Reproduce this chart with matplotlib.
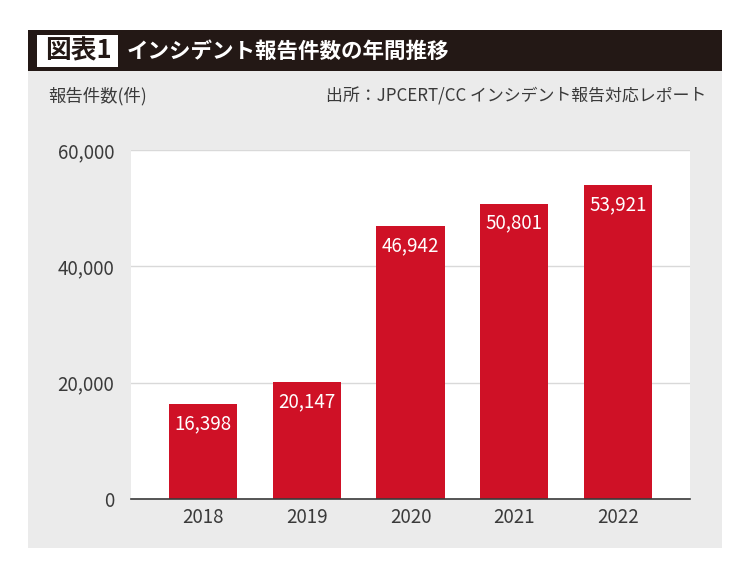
import matplotlib
matplotlib.use("Agg")
import matplotlib.pyplot as plt
from matplotlib.patches import Rectangle

plt.rcParams['font.family'] = ['Noto Sans CJK JP', 'DejaVu Sans']

years = ["2018", "2019", "2020", "2021", "2022"]
counts = [16398, 20147, 46942, 50801, 53921]
yticks = [0, 20000, 40000, 60000]
title_tag = "図表1"
title = "インシデント報告件数の年間推移"
ylabel = "報告件数(件)"
source = "出所：JPCERT/CC インシデント報告対応レポート"

W, H = 740, 567
fig = plt.figure(figsize=(W/100, H/100), dpi=100)
fig.patch.set_facecolor("white")

def fx(px): return px / W
def fy(py): return 1 - py / H

# gray panel
fig.patches.append(Rectangle((fx(28), fy(548)), fx(722)-fx(28), fy(71)-fy(548),
                             transform=fig.transFigure, facecolor="#ebebeb", edgecolor="none", zorder=0))
# dark header
fig.patches.append(Rectangle((fx(28), fy(71)), fx(722)-fx(28), fy(30)-fy(71),
                             transform=fig.transFigure, facecolor="#231815", edgecolor="none", zorder=0))
# white tag box
fig.patches.append(Rectangle((fx(37), fy(67)), fx(118)-fx(37), fy(35)-fy(67),
                             transform=fig.transFigure, facecolor="white", edgecolor="none", zorder=1))
fig.text(fx(78), fy(51), title_tag, color="#231815", fontsize=18.5, fontweight="bold",
         ha="center", va="center", zorder=2)
fig.text(fx(127), fy(51), title, color="white", fontsize=15.5, fontweight="bold",
         ha="left", va="center", zorder=2)
fig.text(fx(48), fy(96), ylabel, color="#3a3a3a", fontsize=12.5, ha="left", va="center")
fig.text(fx(706), fy(96), source, color="#3a3a3a", fontsize=12.2, ha="right", va="center")

ax = fig.add_axes([fx(131), fy(499), fx(690)-fx(131), fy(150)-fy(499)], zorder=5)
ax.set_facecolor("white")
x = list(range(len(years)))
bars = ax.bar(x, counts, width=0.655, color="#cf1126", zorder=3)
ax.set_xlim(-0.69, 4.69)
ax.set_ylim(0, 60000)
ax.set_yticks(yticks)
ax.set_yticklabels([f"{v:,}" for v in yticks])
ax.set_xticks(x)
ax.set_xticklabels(years)
ax.yaxis.grid(True, color="#d9d9d9", linewidth=1, zorder=0)
for s in ["top", "right", "left"]:
    ax.spines[s].set_visible(False)
ax.spines["bottom"].set_color("#3a3a3a")
ax.spines["bottom"].set_linewidth(1.2)
ax.spines["bottom"].set_zorder(4)
ax.tick_params(axis="both", length=0, labelsize=13.5, labelcolor="#3a3a3a")
ax.tick_params(axis="y", pad=12)
ax.tick_params(axis="x", pad=6)
for xi, v in zip(x, counts):
    ax.text(xi, v - 3400, f"{v:,}", color="white", fontsize=13.5, ha="center", va="center", zorder=5)

fig.savefig("out.png", dpi=100, facecolor="white")
